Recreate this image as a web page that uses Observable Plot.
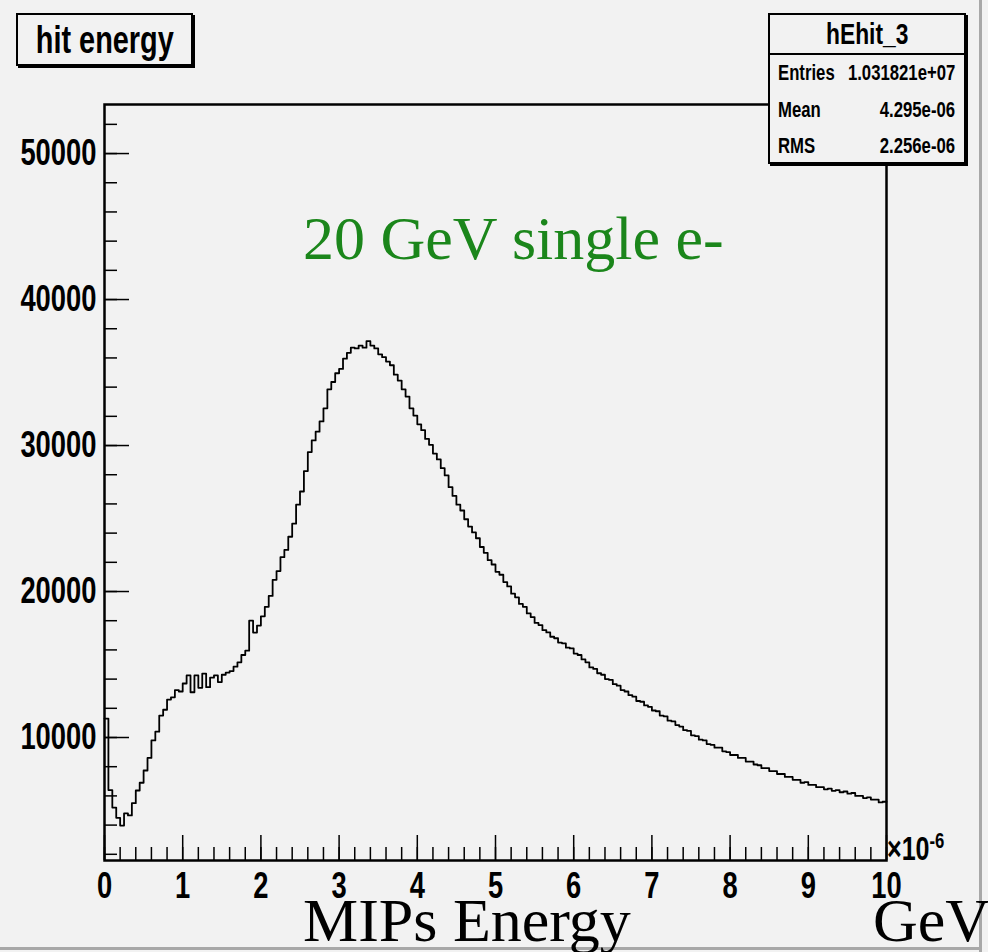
<!DOCTYPE html>
<html>
<head>
<meta charset="utf-8">
<script src="https://cdn.jsdelivr.net/npm/d3@7"></script>
<script src="https://cdn.jsdelivr.net/npm/@observablehq/plot@0.6"></script>
<style>
  html, body { margin: 0; padding: 0; background: #f2f2f2; }
  #wrap { position: relative; width: 988px; height: 952px; overflow: hidden; background: #f2f2f2; }
  .narrow { font-family: "Liberation Sans", Arial, sans-serif; font-weight: bold; color: #000; white-space: nowrap; line-height: 1; }
  .sq { display: inline-block; transform: scaleX(0.76); }
  .serif { font-family: "Liberation Serif", "Times New Roman", serif; position: absolute; white-space: nowrap; line-height: 1; }
  .box { position: absolute; background: #f2f2f2; border: 2px solid #000; box-shadow: 2px 2px 0 #000; box-sizing: border-box; }
</style>
</head>
<body>
<div id="wrap">
  <div id="chart"></div>
</div>
<script>
// ---- data ----
const histTitle = "hit energy";
const statsName = "hEhit_3";
const statsLabels = ["Entries", "Mean", "RMS"];
const statsValues = ["1.031821e+07", "4.295e-06", "2.256e-06"];
const annotation = "20 GeV single e-";
const xAxisLabel = "MIPs Energy";
const xUnitLabel = "GeV";
const xExponent = "-6";
const xTicks = [0, 1, 2, 3, 4, 5, 6, 7, 8, 9, 10];
const yTicks = [10000, 20000, 30000, 40000, 50000];
const binWidth = 0.05; // bin width in units of 1e-6 GeV, 200 bins over 0..10
const counts = [
  11300, 6400, 5200, 4500, 3970, 4800, 4660, 5500, 6370, 6900,
  7740, 8600, 9800, 10400, 11500, 11900, 12600, 12750, 13250, 13150,
  13700, 14250, 13100, 14250, 13400, 14380, 13450, 14100, 14250, 13800,
  14300, 14450, 14550, 14850, 15150, 15650, 15950, 18000, 17190, 17670,
  18300, 18950, 19700, 20800, 21400, 22350, 22850, 23750, 24650, 25950,
  26850, 28250, 29550, 30350, 30950, 31650, 32550, 33850, 34350, 34950,
  35250, 35950, 36350, 36700, 36650, 36850, 36700, 37150, 36850, 36650,
  36250, 36050, 35750, 35500, 34850, 34450, 33850, 33350, 32550, 32050,
  31450, 31050, 30450, 30050, 29450, 29050, 28450, 27950, 27150, 26550,
  25950, 25550, 24950, 24450, 24050, 23650, 23050, 22650, 22150, 21850,
  21350, 21150, 20650, 20350, 19850, 19600, 19150, 18950, 18500, 18250,
  17850, 17700, 17350, 17200, 16900, 16800, 16500, 16450, 16150, 16100,
  15750, 15650, 15350, 15150, 14800, 14700, 14400, 14300, 14000, 13950,
  13650, 13550, 13250, 13150, 12900, 12800, 12500, 12450, 12200, 12100,
  11850, 11800, 11500, 11450, 11150, 11100, 10850, 10750, 10500, 10450,
  10150, 10100, 9850, 9800, 9550, 9500, 9300, 9300, 9050, 9000,
  8800, 8800, 8600, 8600, 8350, 8350, 8150, 8100, 7900, 7900,
  7700, 7700, 7500, 7500, 7300, 7300, 7100, 7100, 6900, 6950,
  6750, 6750, 6600, 6600, 6450, 6500, 6350, 6400, 6250, 6300,
  6150, 6200, 6000, 6000, 5850, 5900, 5750, 5750, 5550, 5600
];

// ---- table for the library ----
const hist = counts.map((c, i) => ({x: i * binWidth, y: c}));
hist.push({x: counts.length * binWidth, y: counts[counts.length - 1]});
const yMinor = d3.range(2000, 53000, 2000);
const xMinor = d3.range(0, 10.001, 0.2);

const W = 988, H = 952, mL = 104, mR = 102, mT = 104, mB = 92;
const fw = W - mL - mR, fh = H - mT - mB;
const tickFont = `"Liberation Sans", Arial, sans-serif`;

const chart = Plot.plot({
  width: W, height: H,
  marginLeft: mL, marginRight: mR, marginTop: mT, marginBottom: mB,
  style: {background: "transparent", overflow: "visible"},
  x: {domain: [0, 10], axis: null},
  y: {domain: [1575, 53360], axis: null},
  marks: [
    Plot.tickX(xMinor, {x: d => d, stroke: "#000", strokeWidth: 1.5, insetTop: fh - 13}),
    Plot.tickX(xTicks, {x: d => d, stroke: "#000", strokeWidth: 1.5, insetTop: fh - 25}),
    Plot.tickY(yMinor, {y: d => d, stroke: "#000", strokeWidth: 1.5, insetRight: fw - 13}),
    Plot.tickY(yTicks, {y: d => d, stroke: "#000", strokeWidth: 1.5, insetRight: fw - 25}),
    Plot.line(hist, {x: "x", y: "y", curve: "step-after", stroke: "#000", strokeWidth: 1.8}),
    Plot.frame({stroke: "#000", strokeWidth: 2.5}),
    Plot.text(yTicks, {y: d => d, text: d => String(d), frameAnchor: "left", textAnchor: "end", dx: -8,
      fontSize: 36, fontWeight: "bold", fontFamily: tickFont, fill: "#000"}),
    Plot.text(xTicks, {x: d => d, text: d => String(d), frameAnchor: "bottom", lineAnchor: "top", dy: 12,
      fontSize: 36, fontWeight: "bold", fontFamily: tickFont, fill: "#000"})
  ]
});
const wrap = document.getElementById("wrap");
document.getElementById("chart").appendChild(chart);
// condense the bold tick labels horizontally (ROOT-style narrow bold)
chart.querySelectorAll('g[aria-label="text"] text').forEach(t => {
  const L = t.getComputedTextLength();
  if (L > 0) {
    t.setAttribute("textLength", (L * 0.76).toFixed(1));
    t.setAttribute("lengthAdjust", "spacingAndGlyphs");
  }
});

function el(tag, cls, style, text) {
  const e = document.createElement(tag);
  if (cls) e.className = cls;
  Object.assign(e.style, style);
  if (text != null) e.textContent = text;
  return e;
}
function sq(text, origin) {
  return el("span", "sq", {transformOrigin: origin || "center"}, text);
}

// canvas border lines
wrap.appendChild(el("div", null, {position: "absolute", left: "979px", top: "0px", width: "3px", height: "952px", background: "#a8a8a8"}));
wrap.appendChild(el("div", null, {position: "absolute", left: "0px", top: "947px", width: "982px", height: "3px", background: "#a8a8a8"}));

// title box
const tb = el("div", "box narrow", {left: "16px", top: "13px", width: "177px", height: "53px",
  display: "flex", alignItems: "center", justifyContent: "center", fontSize: "38px"});
tb.appendChild(sq(histTitle));
wrap.appendChild(tb);

// stats box
const sb = el("div", "box narrow", {left: "768px", top: "13px", width: "198px", height: "151px"});
const hdr = el("div", null, {position: "absolute", left: "0", top: "0", width: "100%", height: "38px",
  borderBottom: "2px solid #000", display: "flex", alignItems: "center", justifyContent: "center", fontSize: "30px"});
hdr.appendChild(sq(statsName));
sb.appendChild(hdr);
statsLabels.forEach((lab, i) => {
  const top = 40 + i * 36.5;
  const l = el("div", null, {position: "absolute", left: "8px", top: top + "px", height: "36px",
    display: "flex", alignItems: "center", fontSize: "22px"});
  l.appendChild(sq(lab, "left center"));
  sb.appendChild(l);
  const r = el("div", null, {position: "absolute", right: "9px", top: top + "px", height: "36px",
    display: "flex", alignItems: "center", fontSize: "22px"});
  r.appendChild(sq(statsValues[i], "right center"));
  sb.appendChild(r);
});
wrap.appendChild(sb);

// x10^-6 exponent label
const ex = el("div", "narrow", {position: "absolute", left: "887px", top: "832px", fontSize: "33px"});
const exs = el("span", "sq", {transformOrigin: "left center"});
exs.appendChild(document.createTextNode("×10"));
exs.appendChild(el("span", null, {fontSize: "22px", position: "relative", top: "-12px"}, xExponent));
ex.appendChild(exs);
wrap.appendChild(ex);

// annotation
wrap.appendChild(el("div", "serif", {left: "303px", top: "207px", fontSize: "62px", color: "#1b861b"}, annotation));
// axis labels
wrap.appendChild(el("div", "serif", {left: "303px", top: "889px", fontSize: "62px", color: "#000"}, xAxisLabel));
wrap.appendChild(el("div", "serif", {left: "873px", top: "889px", fontSize: "62px", color: "#000"}, xUnitLabel));
</script>
</body>
</html>
